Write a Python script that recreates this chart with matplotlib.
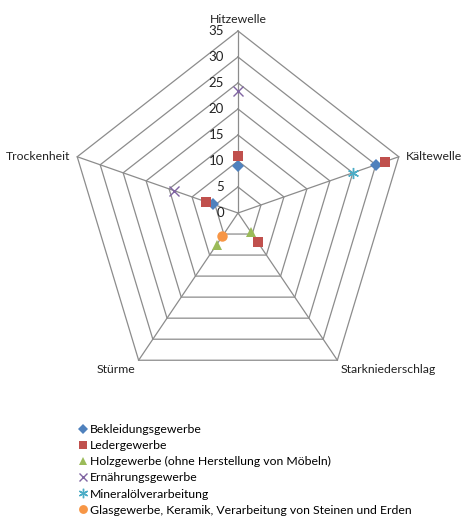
import numpy as np
import matplotlib.pyplot as plt
from matplotlib.lines import Line2D

plt.rcParams["font.family"] = ["Lato", "DejaVu Sans"]

CATEGORIES = ["Hitzewelle", "Kältewelle", "Starkniederschlag", "Stürme", "Trockenheit"]
TICKS = [0, 5, 10, 15, 20, 25, 30, 35]

SERIES_NAMES = [
    "Bekleidungsgewerbe",
    "Ledergewerbe",
    "Holzgewerbe (ohne Herstellung von Möbeln)",
    "Ernährungsgewerbe",
    "Mineralölverarbeitung",
    "Glasgewerbe, Keramik, Verarbeitung von Steinen und Erden",
]
bekleidung = [9, 30, None, None, 5.5]
leder = [11, 32, 7, None, 7]
holz = [None, None, 4.5, 7.5, None]
ernaehrung = [23.5, None, None, None, 14]
mineraloel = [None, 25, None, None, None]
glas = [None, None, None, 5.5, None]

SERIES = [bekleidung, leder, holz, ernaehrung, mineraloel, glas]
STYLES = [
    dict(marker="D", color="#4F81BD", ms=6, mew=0),
    dict(marker="s", color="#C0504D", ms=7, mew=0),
    dict(marker="^", color="#9BBB59", ms=7.5, mew=0),
    dict(marker="x", color="#8064A2", ms=7, mew=1.0),
    dict(marker=(6, 2, 0), color="#4BACC6", ms=8, mew=1.0),
    dict(marker="o", color="#F79646", ms=7.5, mew=0),
]

W, H = 462, 520
CX, CY = 238, 213          # centre in pixels
SX, SY = 4.83, 5.2         # pixels per unit

fig = plt.figure(figsize=(W / 100, H / 100), dpi=100)
ax = fig.add_axes([0, 0, 1, 1])
ax.set_xlim(-CX / SX, (W - CX) / SX)
ax.set_ylim((CY - H) / SY, CY / SY)
ax.set_aspect("auto")
ax.axis("off")

theta = np.deg2rad(np.arange(len(CATEGORIES)) * 360 / len(CATEGORIES))
ux, uy = np.sin(theta), np.cos(theta)
grid_kw = dict(color="#8c8c8c", lw=0.9, zorder=1)

for r in TICKS[1:]:
    ax.plot(np.append(ux, ux[0]) * r, np.append(uy, uy[0]) * r, **grid_kw)
for x, y in zip(ux, uy):
    ax.plot([0, x * TICKS[-1]], [0, y * TICKS[-1]], **grid_kw)

for t in TICKS:
    ax.annotate(str(t), (0, t), xytext=(-10, 0), textcoords="offset points",
                ha="right", va="center", fontsize=9.5, color="#222222")

rmax = TICKS[-1]
label_pos = [
    ((0, 4), "center", "bottom"),
    ((5, 0), "left", "center"),
    ((2, -3), "left", "top"),
    ((-2, -3), "right", "top"),
    ((-5, 0), "right", "center"),
]
for name, x, y, (off, ha, va) in zip(CATEGORIES, ux, uy, label_pos):
    ax.annotate(name, (x * rmax, y * rmax), xytext=off, textcoords="offset points",
                ha=ha, va=va, fontsize=8.8, color="#222222")

handles = []
for name, vals, st in zip(SERIES_NAMES, SERIES, STYLES):
    v = np.array([np.nan if a is None else a for a in vals], dtype=float)
    ax.plot(v * ux, v * uy, ls="none", marker=st["marker"], ms=st["ms"],
            color=st["color"], mec=st["color"], mew=st["mew"], zorder=3)
    handles.append(Line2D([], [], ls="none", marker=st["marker"], ms=st["ms"] * 0.85,
                          color=st["color"], mec=st["color"], mew=st["mew"]))

fig.legend(handles, SERIES_NAMES, loc="upper left", bbox_to_anchor=(79 / W, 1 - 424 / H),
           frameon=False, fontsize=8.8, handlelength=0.6, handletextpad=0.3,
           labelspacing=0.42, borderpad=0, borderaxespad=0)

fig.savefig("out.png", dpi=100, facecolor="white")
